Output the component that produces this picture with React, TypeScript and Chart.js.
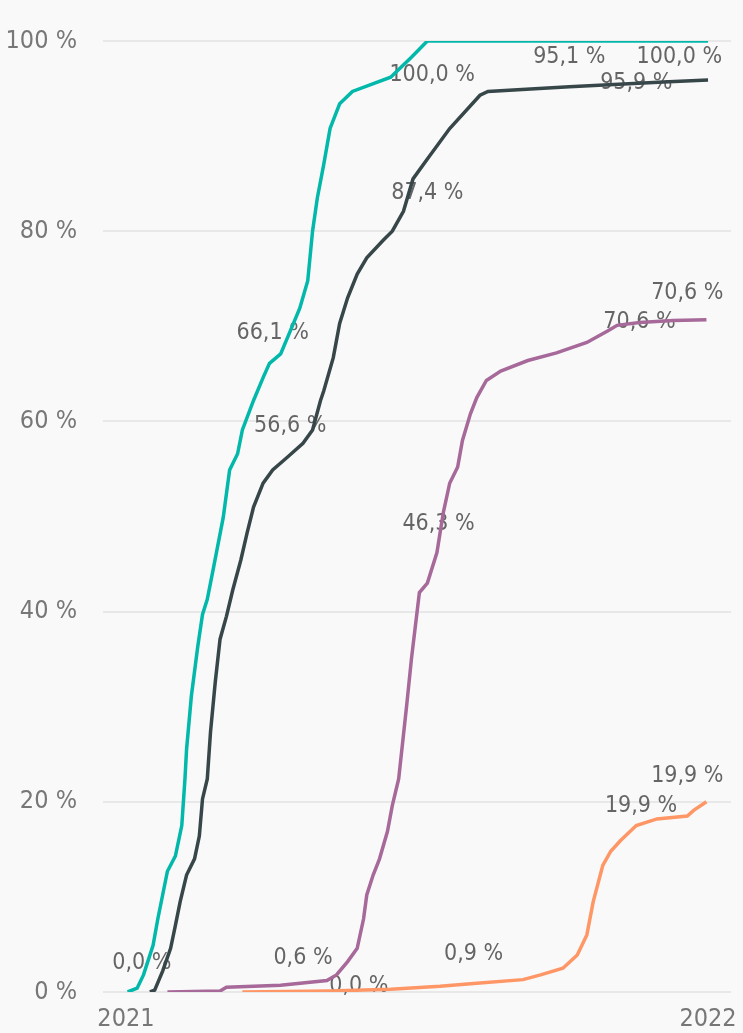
import React, { useEffect, useRef } from "react";
import { Chart, registerables } from "chart.js";

Chart.register(...registerables);

// x values are days since 1 Jan 2021, y values are percent
const tealDays = [1, 7, 11, 17, 20, 23, 26, 31, 35, 37, 38, 41, 45, 48, 51, 55, 61, 65, 70, 73, 80, 86, 90, 97, 103, 109, 114, 117, 120, 124, 128, 134, 142, 166, 179, 189, 365];
const tealPct = [0, 0.4, 1.8, 4.9, 7.7, 10.2, 12.7, 14.3, 17.5, 22.4, 25.5, 31.1, 36.3, 39.7, 41.3, 44.7, 49.9, 54.9, 56.6, 59.1, 62.2, 64.6, 66.1, 67.1, 69.5, 71.9, 74.8, 80.0, 83.5, 87.0, 90.8, 93.4, 94.7, 96.2, 98.3, 100, 100];

const darkDays = [15, 18, 23, 28, 31, 34, 38, 43, 46, 48, 51, 53, 56, 59, 63, 67, 72, 76, 80, 86, 92, 101, 111, 117, 122, 124, 130, 134, 139, 145, 151, 161, 167, 174, 180, 189, 203, 222, 227, 278, 337, 365];
const darkPct = [0, 0.2, 2.2, 4.6, 7.0, 9.5, 12.3, 14.0, 16.4, 20.3, 22.4, 27.3, 32.6, 37.1, 39.5, 42.3, 45.4, 48.3, 51.0, 53.5, 54.9, 56.2, 57.7, 59.1, 62.2, 63.2, 66.7, 70.3, 73.0, 75.5, 77.2, 79.0, 80.0, 82.1, 85.5, 87.6, 90.8, 94.3, 94.7, 95.2, 95.7, 95.9];

const purpleDays = [26, 59, 63, 97, 126, 132, 139, 145, 149, 151, 155, 159, 164, 167, 171, 176, 179, 184, 189, 195, 199, 203, 208, 211, 216, 220, 226, 235, 252, 270, 289, 302, 308, 322, 343, 364];
const purplePct = [0, 0.1, 0.5, 0.7, 1.2, 1.8, 3.2, 4.6, 7.7, 10.2, 12.3, 14.0, 16.9, 19.6, 22.4, 30.1, 35.0, 42.0, 43.0, 46.2, 50.4, 53.5, 55.2, 58.0, 60.8, 62.5, 64.3, 65.3, 66.4, 67.2, 68.3, 69.5, 70.1, 70.4, 70.6, 70.7];

const orangeDays = [73, 128, 166, 197, 218, 249, 260, 274, 283, 289, 293, 299, 304, 310, 320, 333, 352, 356, 364];
const orangePct = [0, 0.1, 0.3, 0.6, 0.9, 1.3, 1.8, 2.5, 3.9, 6.0, 9.5, 13.3, 14.8, 15.9, 17.5, 18.2, 18.5, 19.1, 20.0];

const yearTickDays = [0, 365];
const yearTickLabels = ["2021", "2022"];
const yTicks = [0, 20, 40, 60, 80, 100];

const labelTexts = ["0,0 %", "0,6 %", "0,0 %", "0,9 %", "19,9 %", "19,9 %", "46,3 %", "70,6 %", "70,6 %", "66,1 %", "56,6 %", "87,4 %", "100,0 %", "95,1 %", "100,0 %", "95,9 %"];
const labelDays = [10, 111, 146, 218, 323, 352, 196, 322, 352, 92, 103, 189, 192, 278, 347, 320];
const labelPcts = [3.0, 3.6, 0.6, 4.0, 19.6, 22.7, 49.2, 70.4, 73.5, 69.3, 59.5, 84.0, 96.4, 98.3, 98.3, 95.6];

const FONT = "'DejaVu Sans Condensed', 'Liberation Sans Narrow', 'Roboto', sans-serif";

const toPoints = (xs: number[], ys: number[]) => xs.map((x, i) => ({ x, y: ys[i] }));

const labelPlugin = {
  id: "pointLabels",
  beforeDatasetsDraw(chart: any) {
    const { ctx, scales } = chart;
    ctx.save();
    ctx.font = `23px ${FONT}`;
    ctx.fillStyle = "#656565";
    ctx.textAlign = "center";
    ctx.textBaseline = "middle";
    labelTexts.forEach((t, i) => {
      ctx.fillText(t, scales.x.getPixelForValue(labelDays[i]), scales.y.getPixelForValue(labelPcts[i]));
    });
    ctx.restore();
  },
};

export default function App() {
  const ref = useRef<HTMLCanvasElement>(null);
  useEffect(() => {
    if (!ref.current) return;
    const mk = (data: any, color: string) => ({
      data,
      borderColor: color,
      backgroundColor: color,
      borderWidth: 3.5,
      pointRadius: 0,
      tension: 0,
      fill: false,
    });
    const chart = new Chart(ref.current, {
      type: "line",
      data: {
        datasets: [
          mk(toPoints(orangeDays, orangePct), "#FE9666"),
          mk(toPoints(purpleDays, purplePct), "#A66999"),
          mk(toPoints(darkDays, darkPct), "#374649"),
          mk(toPoints(tealDays, tealPct), "#01B8AA"),
        ],
      },
      options: {
        responsive: false,
        animation: false,
        layout: { padding: { top: 39, right: 12, bottom: 0, left: 0 } },
        plugins: { legend: { display: false }, tooltip: { enabled: false } },
        scales: {
          x: {
            type: "linear",
            min: -14.4,
            max: 379.4,
            grid: { display: false, drawTicks: false },
            border: { display: false },
            afterFit: (s: any) => { s.height = 39; },
            afterBuildTicks: (s: any) => { s.ticks = yearTickDays.map((v) => ({ value: v })); },
            ticks: {
              autoSkip: false,
              maxRotation: 0,
              padding: 4,
              color: "#777777",
              font: { family: FONT, size: 25, lineHeight: 1.9 },
              callback: (v: any) => yearTickLabels[yearTickDays.indexOf(Number(v))] ?? "",
            },
          },
          y: {
            min: 0,
            max: 100,
            grid: { color: "#e8e8e8", lineWidth: 2, drawTicks: false },
            border: { display: false },
            afterFit: (s: any) => { s.width = 103; },
            afterBuildTicks: (s: any) => { s.ticks = yTicks.map((v) => ({ value: v })); },
            ticks: {
              padding: 26,
              color: "#777777",
              font: { family: FONT, size: 25 },
              callback: (v: any) => `${v} %`,
            },
          },
        },
      },
      plugins: [labelPlugin],
    });
    return () => chart.destroy();
  }, []);
  return (
    <div style={{ position: "fixed", left: 0, top: 0, width: 743, height: 1033, background: "#f9f9f9" }}>
      <canvas ref={ref} width={743} height={1033} />
    </div>
  );
}
